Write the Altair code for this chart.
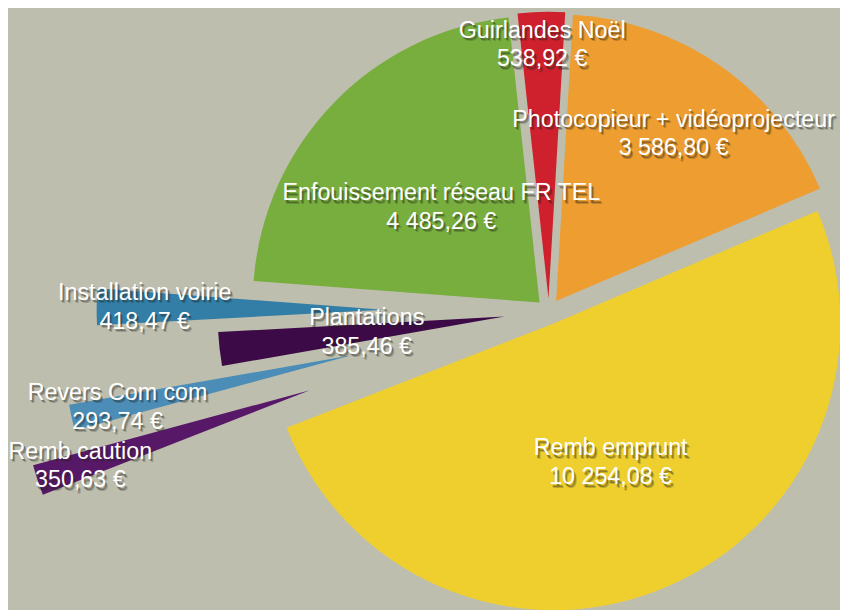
import math
import altair as alt
import pandas as pd

# --- data -------------------------------------------------------------
categories = [
    "Guirlandes Noël",
    "Photocopieur + vidéoprojecteur",
    "Remb emprunt",
    "Remb caution",
    "Revers Com com",
    "Plantations",
    "Installation voirie",
    "Enfouissement réseau FR TEL",
]
values = [538.92, 3586.80, 10254.08, 350.63, 293.74, 385.46, 418.47, 4485.26]

# --- styles -----------------------------------------------------------
colors = ["#cf202e", "#ee9d30", "#efcf2e", "#581868",
          "#4b8db6", "#3c0a46", "#327ea6", "#78ae3e"]
# how far each slice is pulled out of the pie (px)
explode = [13, 13, 13, 254, 204, 45, 167, 13]
# distance of each label from its slice's apex, along the slice's mid angle (px)
label_dist = [256, 206, 152, 244, 242, 140, 241, 138]

CX, CY, R = 546, 303.5, 289.5
START = -6.2 * math.pi / 180.0
FONT_SIZE, LINE_H = 23.5, 29


def fr(v):
    s = f"{v:,.2f}".replace(",", " ").replace(".", ",")
    return s + " €"


df = pd.DataFrame({
    "category": categories,
    "value": values,
    "order": list(range(len(categories))),
    "explode": explode,
    "ldist": label_dist,
    "label": [f"{c}\n{fr(v)}" for c, v in zip(categories, values)],
})

base = (
    alt.Chart(df)
    .transform_window(cum="sum(value)", sort=[alt.SortField("order")], frame=[None, 0])
    .transform_joinaggregate(total="sum(value)")
    .transform_calculate(
        mid=f"{START} + 2*PI*(datum.cum - datum.value/2)/datum.total",
    )
    .transform_calculate(
        cx=f"{CX} + datum.explode*sin(datum.mid)",
        cy=f"{CY} - datum.explode*cos(datum.mid)",
    )
    .transform_calculate(
        lx="datum.cx + datum.ldist*sin(datum.mid)",
        ly=f"datum.cy - datum.ldist*cos(datum.mid) - {LINE_H / 2}",
    )
)

arcs = base.mark_arc(outerRadius=R, innerRadius=0).encode(
    theta=alt.Theta("value:Q", stack=True,
                    scale=alt.Scale(range=[START, START + 2 * math.pi])),
    color=alt.Color("category:N", scale=alt.Scale(domain=categories, range=colors),
                    legend=None),
    order=alt.Order("order:Q"),
    x=alt.X("cx:N", scale=None, axis=None),
    y=alt.Y("cy:N", scale=None, axis=None),
)

text_props = dict(lineBreak="\n", lineHeight=LINE_H, fontSize=FONT_SIZE,
                  font="Liberation Sans", align="center", baseline="middle")

enc = dict(
    x=alt.X("lx:N", scale=None, axis=None),
    y=alt.Y("ly:N", scale=None, axis=None),
    text="label:N",
)

shadow1 = base.mark_text(color="#23231a", opacity=0.22, dx=2.5, dy=3.5, **text_props).encode(**enc)
shadow2 = base.mark_text(color="#23231a", opacity=0.35, dx=1.5, dy=2.5, **text_props).encode(**enc)
labels = base.mark_text(color="white", **text_props).encode(**enc)

chart = (
    alt.layer(arcs, shadow1, shadow2, labels)
    .properties(width=840, height=602, padding=0,
                autosize=alt.AutoSizeParams(type="none"),
                background="#bebeae")
    .configure_view(strokeWidth=0)
)

chart.save("out.html", embed_options={"renderer": "svg", "actions": False})
